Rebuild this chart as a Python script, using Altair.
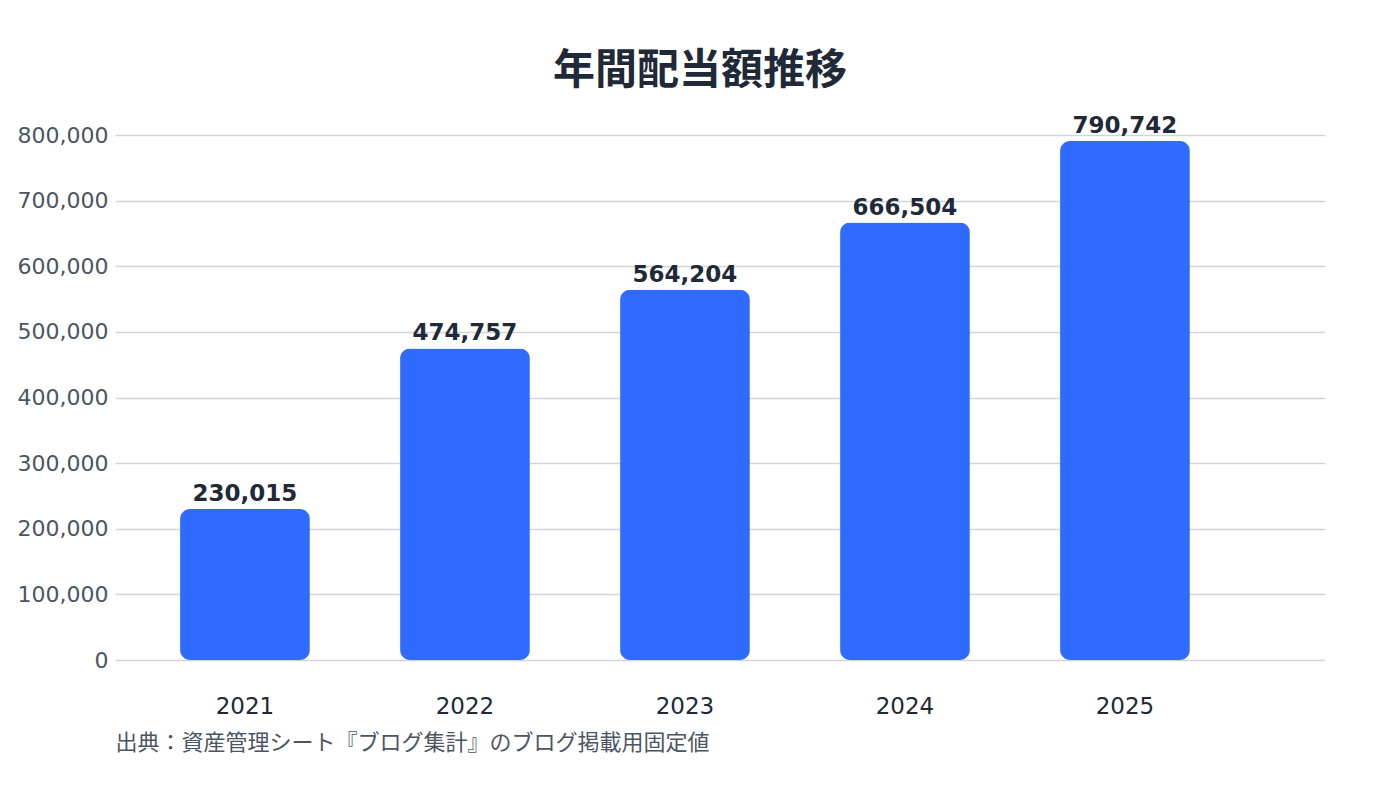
import pandas as pd
import altair as alt

# data
years = ['2021', '2022', '2023', '2024', '2025']
dividends = [230015, 474757, 564204, 666504, 790742]

df = pd.DataFrame({'年': years, '配当額': dividends})

base = alt.Chart(df).encode(
    x=alt.X('年:N', sort=years,
            scale=alt.Scale(paddingInner=0.41, paddingOuter=0.455, align=0.325),
            axis=alt.Axis(title='出典：資産管理シート『ブログ集計』のブログ掲載用固定値',
                          titleAnchor='start', titleAlign='left', titleFontSize=22,
                          titleFont='Noto Sans CJK JP', titleFontWeight='normal',
                          titleColor='#4b5563', titlePadding=14,
                          labelAngle=0, labelFont='DejaVu Sans', labelFontSize=23,
                          labelColor='#1f2937', labelPadding=35,
                          ticks=False, domain=False, grid=False)),
    y=alt.Y('配当額:Q', scale=alt.Scale(domain=[0, 800000]),
            axis=alt.Axis(title=None, format=',d', values=list(range(0, 800001, 100000)),
                          labelFont='DejaVu Sans', labelFontSize=22, labelColor='#4b5563',
                          labelPadding=7, ticks=False, domain=False,
                          gridColor='#d1d5db', gridWidth=1.5)),
)

bars = base.mark_bar(color='#2f6bff', cornerRadius=10)

labels = base.mark_text(baseline='bottom', dy=-3, font='DejaVu Sans', fontSize=23,
                        fontWeight='bold', color='#1f2937').encode(
    text=alt.Text('配当額:Q', format=',d')
)

chart = (bars + labels).properties(
    width=1210,
    height=525,
    background='white',
    autosize=alt.AutoSizeParams(type='none'),
    padding={'left': 107, 'top': 127, 'right': 60, 'bottom': 110},
    title=alt.TitleParams('年間配当額推移', font='Noto Sans CJK JP', fontSize=42,
                          fontWeight='bold', color='#1f2937', anchor='middle',
                          dx=-20, offset=22),
).configure_view(strokeWidth=0)

chart.save("out.html", embed_options={"renderer": "svg", "actions": False})
